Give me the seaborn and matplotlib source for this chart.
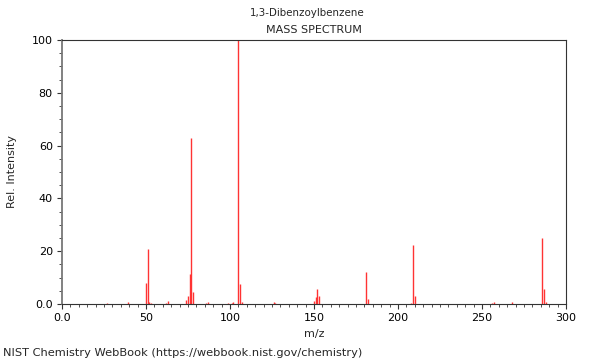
import matplotlib
matplotlib.use("Agg")
import matplotlib.pyplot as plt
import seaborn as sns
import pandas as pd
from matplotlib.ticker import MultipleLocator, FuncFormatter

mz = [27, 39, 50, 51, 52, 53, 62, 63, 74, 75, 76, 77, 78, 86, 87, 99, 101, 102,
      105, 106, 107, 126, 127, 150, 151, 152, 153, 181, 182, 208, 209, 210,
      256, 257, 268, 286, 287, 288]
intensity = [0.2, 0.9, 7.8, 21.0, 0.9, 0.3, 0.4, 1.0, 1.5, 2.9, 11.2, 63.0, 4.4, 0.4, 0.6, 0.4, 0.4, 0.8,
             100.0, 7.5, 0.6, 0.9, 0.5, 1.2, 2.5, 5.6, 3.0, 12.0, 1.8, 0.3, 22.5, 3.2,
             0.5, 0.8, 0.6, 25.0, 5.5, 0.8]

title_top = "1,3-Dibenzoylbenzene"
title_sub = "MASS SPECTRUM"
footer = "NIST Chemistry WebBook (https://webbook.nist.gov/chemistry)"

sns.set_style("ticks")
plt.rcParams['font.family'] = ['DejaVu Sans']

df = pd.DataFrame({"mz": mz, "intensity": intensity})

fig = plt.figure(figsize=(6, 3.6), dpi=100)
ax = fig.add_axes([62 / 600, 1 - 304 / 360, 504 / 600, 264 / 360])

ax.vlines(df["mz"], 0, df["intensity"], colors="#ff3333", linewidth=1.0)

ax.set_xlim(0, 300)
ax.set_ylim(0, 100)
ax.xaxis.set_major_locator(MultipleLocator(50))
ax.xaxis.set_minor_locator(MultipleLocator(5))
ax.yaxis.set_major_locator(MultipleLocator(20))
ax.yaxis.set_minor_locator(MultipleLocator(5))
fmt = FuncFormatter(lambda v, p: "0.0" if v == 0 else f"{int(v)}")
ax.xaxis.set_major_formatter(fmt)
ax.yaxis.set_major_formatter(fmt)
ax.tick_params(axis="both", which="major", length=3.6, width=0.8, pad=3,
               labelsize=8, colors="#333333", labelcolor="black")
ax.tick_params(axis="both", which="minor", length=2.2, width=0.6, colors="#333333")
for s in ax.spines.values():
    s.set_linewidth(0.8)
    s.set_color("#333333")
ax.spines["left"].set_color("#777777")
ax.spines["left"].set_linewidth(1.3)

ax.set_xlabel("m/z", fontsize=8, labelpad=4)
ax.set_ylabel("Rel. Intensity", fontsize=8, labelpad=11)

fig.text(307 / 600, 1 - 13 / 360, title_top, ha="center", va="center", fontsize=7.4)
fig.text(314 / 600, 1 - 30 / 360, title_sub, ha="center", va="center", fontsize=8)
fig.text(3 / 600, 1 - 353 / 360, footer, ha="left", va="center", fontsize=8.2)

fig.savefig("out.png", dpi=100)
